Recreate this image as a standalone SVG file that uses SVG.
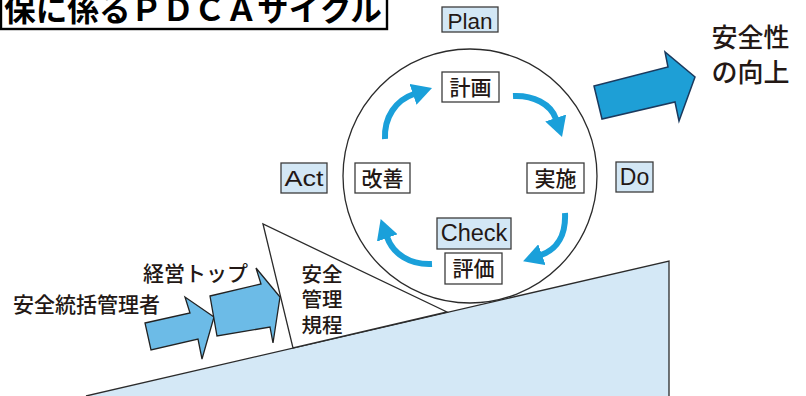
<svg xmlns="http://www.w3.org/2000/svg" width="806" height="396" viewBox="0 0 806 396">
<defs>
<style>
.jp{font-family:"Noto Sans CJK JP","Noto Sans",sans-serif;font-weight:500;fill:#231815}
.en{font-family:"Liberation Sans",Arial,sans-serif;fill:#231815}
.box{fill:#fff;stroke:#3c3c3c;stroke-width:1.3}
.bbox{fill:#d3e7f5;stroke:#3c3c3c;stroke-width:1.3}
.cyc{fill:none;stroke:#1aa0da;stroke-width:6}
.ln{stroke:#2b2b2b;stroke-width:1.3}
.barrow{fill:#6cbbe7;stroke:#222;stroke-width:1.3;stroke-linejoin:miter}
</style>
<marker id="ah" markerUnits="userSpaceOnUse" markerWidth="20" markerHeight="22" viewBox="0 0 20 22" refX="1" refY="11" orient="auto"><path d="M0,0L20,11L0,22z" fill="#1aa0da"/></marker>
</defs>
<rect width="806" height="396" fill="#fff"/>

<g id="title">
<rect x="1" y="-10" width="386" height="39" fill="#fff" stroke="#000" stroke-width="2.4"/>
<text x="4" y="21" font-size="31.5" font-weight="700" textLength="378" lengthAdjust="spacingAndGlyphs" style="font-family:'Noto Sans CJK JP',sans-serif;fill:#000">保に係るＰＤＣＡサイクル</text>
</g>

<g id="slope">
<path d="M86,396 L669,261 L669,396" fill="#d4e8f6" class="ln"/>
</g>

<g id="rules">
<polygon points="263,224 293,348 447,312" fill="#fff" class="ln"/>
<text class="jp" font-size="20.5" x="301.5" y="281.5">安全</text>
<text class="jp" font-size="20.5" x="301.5" y="307">管理</text>
<text class="jp" font-size="20.5" x="301.5" y="332.5">規程</text>
</g>

<g id="manager">
<polygon class="barrow" points="145,323 190,313 185,297 214,317 202,359 198,339 151,350"/>
<text class="jp" font-size="21" x="13" y="312">安全統括管理者</text>
</g>

<g id="top">
<polygon class="barrow" points="210,296 261,284 256,268 280,297 273,343 270,327 217,336"/>
<text class="jp" font-size="21" x="143" y="280.5">経営トップ</text>
</g>

<g id="cycle">
<circle cx="470" cy="176" r="127" fill="none" class="ln"/>
</g>

<g id="connectors">
<path class="cyc" marker-end="url(#ah)" d="M385,139 C384,117 396,100 414,94"/>
<path class="cyc" marker-end="url(#ah)" d="M513,96 C533,95 551,104 556,119"/>
<path class="cyc" marker-end="url(#ah)" d="M565,213 C566,234 558,249 541,255"/>
<path class="cyc" marker-end="url(#ah)" d="M432,264 C410,265 393,254 387,237"/>
</g>

<g id="plan">
<rect class="bbox" x="442" y="7" width="56" height="25"/>
<text class="en" font-size="22.5" x="470" y="28.5" text-anchor="middle">Plan</text>
</g>
<g id="keikaku">
<rect class="box" x="442" y="72" width="57" height="30"/>
<text class="jp" font-size="21" x="470.5" y="94.5" text-anchor="middle">計画</text>
</g>
<g id="act">
<rect class="bbox" x="281" y="163" width="46" height="30"/>
<text class="en" font-size="22.5" x="304" y="185.5" text-anchor="middle" textLength="39" lengthAdjust="spacingAndGlyphs">Act</text>
</g>
<g id="kaizen">
<rect class="box" x="355" y="163" width="55" height="30"/>
<text class="jp" font-size="21" x="382.5" y="185.5" text-anchor="middle">改善</text>
</g>
<g id="jisshi">
<rect class="box" x="527" y="163" width="57" height="30"/>
<text class="jp" font-size="21" x="555.5" y="185.5" text-anchor="middle">実施</text>
</g>
<g id="do">
<rect class="bbox" x="616" y="162" width="37" height="30"/>
<text class="en" font-size="23" x="634.5" y="184.5" text-anchor="middle">Do</text>
</g>
<g id="check">
<rect class="bbox" x="437" y="218" width="74" height="31"/>
<text class="en" font-size="23.5" x="474" y="241" text-anchor="middle">Check</text>
</g>
<g id="hyoka">
<rect class="box" x="445" y="253" width="57" height="31"/>
<text class="jp" font-size="21" x="473.5" y="276" text-anchor="middle">評価</text>
</g>

<g id="improve">
<polygon points="594,86 668,67 665,52 695,77 679,121 675,102 602,119" fill="#1e9fd6" stroke="#1b3a5e" stroke-width="1.5"/>
<text class="jp" font-size="26" x="711.5" y="47">安全性</text>
<text class="jp" font-size="26" x="711.5" y="82">の向上</text>
</g>
</svg>
